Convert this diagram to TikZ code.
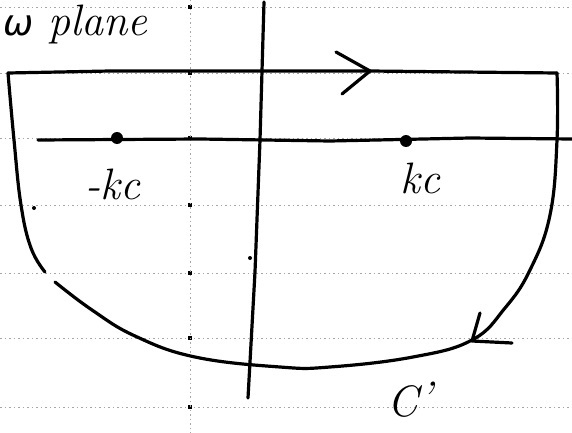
\documentclass[tikz,border=0pt]{standalone}
\usepackage{fontspec}
\newfontfamily\dvsymb{DejaVu Sans}
\usetikzlibrary{calc}
\begin{document}
\begin{tikzpicture}[x=1pt,y=-1pt,
  pen/.style={line width=3.2pt,line cap=round,line join=round,black},
  ruled/.style={line width=0.8pt,gray!70,dash pattern=on 1.5pt off 3pt},
  tick/.style={fill=black,inner sep=0pt,minimum size=4pt,rectangle},
  pole/.style={circle,fill=black,inner sep=0pt,minimum size=12pt},
  speck/.style={circle,fill=black,inner sep=0pt,minimum size=4pt},
  hand/.style={font=\fontsize{44}{48}\selectfont\itshape,inner sep=0pt}]
\useasboundingbox (0,0) rectangle (572,433);
% ruled background lines
\foreach \y/\n in {7/a,73/b,138/c,205/d,273/e,338/f,407/g}{
  \coordinate (L\n) at (0,\y); \coordinate (R\n) at (572,\y);
  \draw[ruled] (L\n) -- (R\n);
  \node[tick] at (190,\y) {};
}
\coordinate (vt) at (190,0); \coordinate (vb) at (190,433);
\draw[ruled] (vt) -- (vb);
% imaginary axis
\coordinate (it) at (264,2); \coordinate (ib) at (248,398);
\draw[pen] (it) -- (260,140) -- (255,272) -- (ib);
% real axis
\coordinate (rl) at (38,140); \coordinate (rr) at (572,139);
\draw[pen] (rl) -- (200,139) -- (330,141) -- (470,138) -- (rr);
\node[pole] (m) at (117,138) {};
\node[pole] (p) at (406,141) {};
% contour
\coordinate (c1) at (8,73); \coordinate (c2) at (557,73);
\draw[pen] (c1) -- (110,71) -- (370,71) -- (c2);
\draw[pen] plot[smooth,tension=0.7] coordinates {(557,73) (557,140) (550,215) (530,270) (505,308) (472,340) (413,357) (330,367) (280,367) (195,357) (135,336) (92,310) (55,282)};
\draw[pen] plot[smooth,tension=0.7] coordinates {(8,73) (14,140) (21,205) (31,248) (45,272)};
% arrows
\coordinate (a1) at (370,71);
\draw[pen] (336,52) -- (a1) -- (342,94);
\coordinate (a2) at (472,341);
\draw[pen] (480,313) -- (a2) -- (512,343);
% specks
\node[speck] (s1) at (34,208) {};
\node[speck] (s2) at (250,258) {};
% labels
\node[hand,anchor=west] (wp) at (3,25) {{\dvsymb\fontsize{36}{40}\selectfont\itshape ω} plane};
\node[hand] (lm) at (113,184) {-kc};
\node[hand] (lp) at (420,178) {kc};
\node[hand] (lc) at (410,400) {C\kern2pt\raisebox{4pt}{’}};
\end{tikzpicture}
\end{document}
